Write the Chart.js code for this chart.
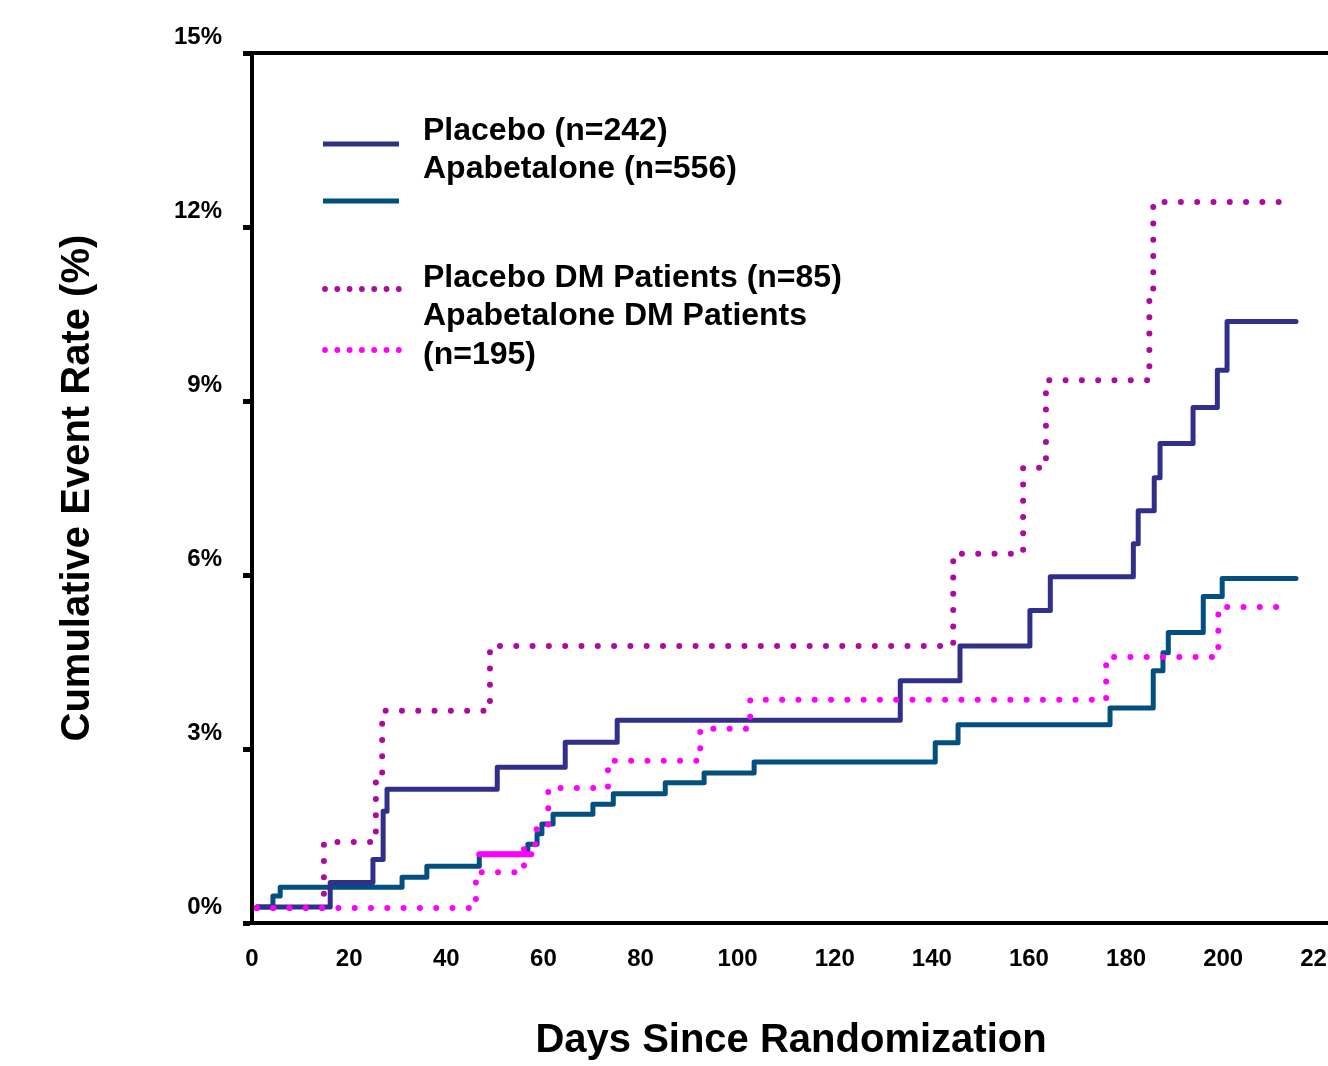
<!DOCTYPE html>
<html>
<head>
<meta charset="utf-8">
<script src="https://cdn.jsdelivr.net/npm/chart.js@4.4.1/dist/chart.umd.min.js"></script>
<style>
  html, body { margin: 0; padding: 0; background: #fff; overflow: hidden; }
  #wrap { width: 1400px; height: 1066px; }
</style>
</head>
<body>
<div id="wrap"><canvas id="kmChart" width="1400" height="1066"></canvas></div>
<script>
// values (days since randomization, cumulative event rate %)
const placeboDays = [1, 16.1, 24.9, 27.0, 27.8, 50.5, 64.5, 75.2, 133.5, 145.8, 160.2, 164.4, 181.5, 182.5, 185.8, 187.0, 193.8, 198.8, 200.8, 215.0];
const placeboRate = [0.28, 0.70, 1.10, 1.93, 2.31, 2.69, 3.12, 3.50, 4.18, 4.78, 5.39, 5.97, 6.54, 7.11, 7.68, 8.27, 8.89, 9.53, 10.37, 10.37];

const apaDays = [1, 4.3, 5.8, 30.9, 36.0, 46.8, 56.8, 58.7, 59.7, 62.0, 70.2, 74.4, 85.1, 93.1, 103.4, 140.7, 145.4, 176.7, 185.6, 187.6, 188.7, 195.9, 199.8, 215.0];
const apaRate = [0.28, 0.47, 0.62, 0.79, 0.98, 1.19, 1.36, 1.54, 1.71, 1.88, 2.05, 2.23, 2.42, 2.59, 2.78, 3.11, 3.42, 3.71, 4.35, 4.66, 5.01, 5.63, 5.94, 5.94];

const placeboDmDays = [1, 14.8, 25.5, 26.8, 49.0, 144.4, 158.8, 163.5, 184.8, 185.6, 212.4];
const placeboDmRate = [0.26, 1.40, 2.50, 3.66, 4.78, 6.37, 7.85, 9.36, 10.94, 12.43, 12.43];

const apaDmDays = [1, 46.1, 56.0, 58.5, 61.0, 73.3, 92.3, 102.6, 175.9, 199.0, 212.4];
const apaDmRate = [0.26, 0.88, 1.36, 1.62, 2.33, 2.80, 3.35, 3.85, 4.59, 5.45, 5.45];

// short solid magenta stroke that sits on the 47-57 day step in the original
const apaDmSolidDays = [46.8, 57.5];
const apaDmSolidRate = [1.19, 1.19];

const xTicks = [0, 20, 40, 60, 80, 100, 120, 140, 160, 180, 200, 220];
const yTicks = [0, 3, 6, 9, 12, 15];

const legendRows = [
    { label: ['Placebo (n=242)', 'Apabetalone (n=556)'], y: [131, 169] },
    { label: ['Placebo DM Patients (n=85)', 'Apabetalone DM Patients', '(n=195)'], y: [278, 316, 355] }
];

const NAVY = '#30308a';
const TEAL = '#024f80';
const PURPLE = '#ad0b9c';
const MAGENTA = '#ff00ff';
const FONT = '"Liberation Sans", Arial, sans-serif';

function toPoints(days, rates) {
    return days.map((d, i) => ({ x: d, y: rates[i] }));
}

// custom legend + top frame line
const frameAndLegend = {
    id: 'frameAndLegend',
    afterDraw(chart) {
        const ctx = chart.ctx;
        const area = chart.chartArea;
        ctx.save();
        ctx.strokeStyle = '#000';
        ctx.lineWidth = 4;
        ctx.beginPath();
        ctx.moveTo(area.left - 2, area.top);
        ctx.lineTo(area.right, area.top);
        ctx.stroke();

        // legend swatches
        ctx.lineCap = 'butt';
        ctx.lineWidth = 5;
        ctx.strokeStyle = NAVY;
        ctx.beginPath(); ctx.moveTo(323, 144); ctx.lineTo(399, 144); ctx.stroke();
        ctx.strokeStyle = TEAL;
        ctx.beginPath(); ctx.moveTo(323, 201); ctx.lineTo(399, 201); ctx.stroke();

        [[PURPLE, 289], [MAGENTA, 350]].forEach(([c, y]) => {
            ctx.fillStyle = c;
            for (let i = 0; i < 7; i++) {
                ctx.beginPath();
                ctx.arc(325 + i * 12.3, y, 2.9, 0, Math.PI * 2);
                ctx.fill();
            }
        });

        ctx.fillStyle = '#000';
        ctx.font = 'bold 32px ' + FONT;
        ctx.textAlign = 'left';
        ctx.textBaseline = 'middle';
        legendRows.forEach(row => {
            row.label.forEach((t, i) => ctx.fillText(t, 423, row.y[i]));
        });
        ctx.restore();
    }
};

const dotted = {
    borderWidth: 6,
    borderDash: [0, 16.3],
    borderCapStyle: 'round',
    pointRadius: 0,
    stepped: true,
    fill: false
};
const solid = {
    borderWidth: 5,
    borderCapStyle: 'round',
    borderJoinStyle: 'round',
    pointRadius: 0,
    stepped: true,
    fill: false
};

new Chart(document.getElementById('kmChart').getContext('2d'), {
    type: 'line',
    data: {
        datasets: [
            Object.assign({ label: 'Apabetalone DM Patients (n=195)', data: toPoints(apaDmDays, apaDmRate), borderColor: MAGENTA }, dotted),
            Object.assign({ label: 'Apabetalone DM Patients', data: toPoints(apaDmSolidDays, apaDmSolidRate), borderColor: MAGENTA }, solid, { borderWidth: 6 }),
            Object.assign({ label: 'Placebo DM Patients (n=85)', data: toPoints(placeboDmDays, placeboDmRate), borderColor: PURPLE }, dotted),
            Object.assign({ label: 'Placebo (n=242)', data: toPoints(placeboDays, placeboRate), borderColor: NAVY }, solid),
            Object.assign({ label: 'Apabetalone (n=556)', data: toPoints(apaDays, apaRate), borderColor: TEAL }, solid)
        ]
    },
    options: {
        responsive: false,
        animation: false,
        layout: { padding: { left: 40, top: 53, right: 70, bottom: 0 } },
        plugins: {
            legend: { display: false },
            tooltip: { enabled: false }
        },
        scales: {
            x: {
                type: 'linear',
                min: 0,
                max: 222,
                afterBuildTicks: axis => { axis.ticks = xTicks.map(v => ({ value: v })); },
                ticks: {
                    autoSkip: false,
                    maxRotation: 0,
                    padding: 22,
                    color: '#000',
                    font: { family: FONT, size: 24, weight: 'bold' }
                },
                grid: { drawOnChartArea: false, drawTicks: false },
                border: { display: true, color: '#000', width: 4 },
                title: {
                    display: true,
                    text: 'Days Since Randomization',
                    color: '#000',
                    font: { family: FONT, size: 40, weight: 'bold', lineHeight: 1 },
                    padding: { top: 25, bottom: 5 }
                }
            },
            y: {
                min: 0,
                max: 15,
                afterBuildTicks: axis => { axis.ticks = yTicks.map(v => ({ value: v })); },
                ticks: {
                    padding: 21,
                    labelOffset: -16,
                    color: '#000',
                    font: { family: FONT, size: 24, weight: 'bold' },
                    callback: v => v + '%'
                },
                grid: { drawOnChartArea: false, drawTicks: true, tickLength: 9, tickWidth: 5, tickColor: '#000' },
                border: { display: true, color: '#000', width: 4 },
                title: {
                    display: true,
                    text: 'Cumulative Event Rate (%)',
                    color: '#000',
                    font: { family: FONT, size: 40, weight: 'bold', lineHeight: 1 },
                    padding: { top: 18, bottom: 55 }
                }
            }
        }
    },
    plugins: [frameAndLegend]
});
</script>
</body>
</html>
